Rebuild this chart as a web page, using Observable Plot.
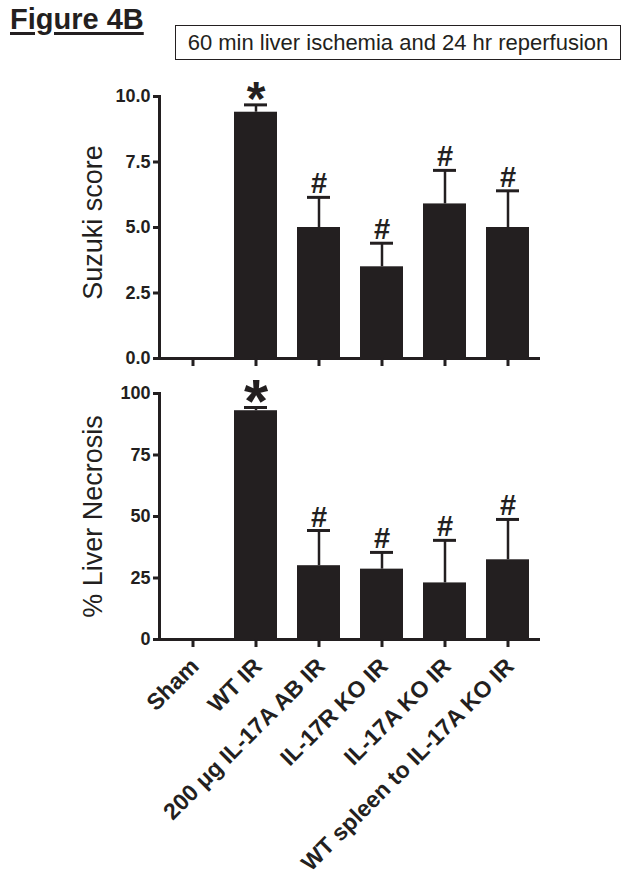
<!DOCTYPE html>
<html>
<head>
<meta charset="utf-8">
<script src="https://cdn.jsdelivr.net/npm/d3@7"></script>
<script src="https://cdn.jsdelivr.net/npm/@observablehq/plot@0.6"></script>
<style>
  html, body { margin: 0; padding: 0; background: #fff; }
  #wrap { position: relative; width: 630px; height: 889px; overflow: hidden; font-family: "Liberation Sans", Arial, sans-serif; color: #231f20; }
  #fig { position: absolute; left: 10px; top: 4.5px; font-size: 29px; font-weight: bold; line-height: 29px; text-decoration: underline; text-decoration-thickness: 3px; text-underline-offset: 3px; white-space: nowrap; }
  #box { position: absolute; left: 175px; top: 25px; width: 446px; height: 35px; box-sizing: border-box; border: 1.5px solid #231f20; font-size: 22px; display: flex; align-items: center; justify-content: center; white-space: nowrap; }
  .panel { position: absolute; left: 0; }
</style>
</head>
<body>
<div id="wrap">
  <div id="fig">Figure 4B</div>
  <div id="box">60 min liver ischemia and 24 hr reperfusion</div>
  <div id="top" class="panel" style="top:70px"></div>
  <div id="bottom" class="panel" style="top:370px"></div>
</div>
<script>
const groups = ["Sham", "WT IR", "200 μg IL-17A AB IR", "IL-17R KO IR", "IL-17A KO IR", "WT spleen to IL-17A KO IR"];
const suzukiMean = [0, 9.4, 5.0, 3.5, 5.9, 5.0];
const suzukiErr = [0, 0.28, 1.15, 0.9, 1.28, 1.4];
const suzukiMarks = ["", "*", "#", "#", "#", "#"];
const necrosisMean = [0, 93, 30, 28.6, 23, 32.4];
const necrosisErr = [0, 1.3, 14.3, 6.8, 17.3, 16.4];
const necrosisMarks = ["", "*", "#", "#", "#", "#"];
const suzukiTicks = [0, 2.5, 5, 7.5, 10];
const necrosisTicks = [0, 25, 50, 75, 100];
const suzukiLabel = "Suzuki score";
const necrosisLabel = "% Liver Necrosis";

const INK = "#231f20";
const FONT = "'Liberation Sans', Arial, sans-serif";

function rows(means, errs, marks) {
  return groups.map((g, i) => ({g, mean: means[i], err: errs[i], mark: marks[i]}));
}

function panel({data, ticks, fmt, label, yMax, height, marginTop, marginBottom, labelDy, starSize, starDy, hashDy, showLabels}) {
  const withErr = data.filter(d => d.err > 0);
  const marks = [
    Plot.barY(data, {x: "g", y: "mean", fill: INK}),
    Plot.ruleX(withErr, {x: "g", y1: "mean", y2: d => d.mean + d.err, stroke: INK, strokeWidth: 2.5}),
    Plot.tickY(withErr, {x: "g", y: d => d.mean + d.err, stroke: INK, strokeWidth: 3, insetLeft: 10, insetRight: 10}),
    Plot.text(data.filter(d => d.mark === "#"), {x: "g", y: d => d.mean + d.err, text: "mark", fontSize: 29, fontWeight: "bold", fill: INK, lineAnchor: "bottom", dy: hashDy}),
    Plot.text(data.filter(d => d.mark === "*"), {x: "g", y: d => d.mean + d.err, text: "mark", fontSize: starSize, fontWeight: "bold", fill: INK, lineAnchor: "bottom", dy: starDy}),
    Plot.ruleY([0], {stroke: INK, strokeWidth: 3}),
    Plot.frame({anchor: "left", stroke: INK, strokeWidth: 3}),
    Plot.axisY({ticks, tickFormat: fmt, tickSize: 6, tickPadding: 3, strokeWidth: 3, stroke: INK, fill: INK, fontSize: 18, fontWeight: "bold", label: null}),
    Plot.axisX({tickSize: 8, strokeWidth: 3, stroke: INK, fill: "none", label: null}),
    Plot.text([label], {text: d => d, frameAnchor: "left", dx: -58, dy: labelDy, rotate: -90, fontSize: 27, fill: INK, lineAnchor: "bottom", textAnchor: "middle"})
  ];
  if (showLabels) {
    marks.push(Plot.text(groups, {x: d => d, text: d => d, frameAnchor: "bottom", rotate: -45, textAnchor: "end", lineAnchor: "middle", dx: 2, dy: 23, fontSize: 23, fontWeight: "bold", fill: INK}));
  }
  return Plot.plot({
    width: 630,
    height,
    marginLeft: 159,
    marginRight: 90,
    marginTop,
    marginBottom,
    style: {fontFamily: FONT, color: INK, background: "transparent", overflow: "visible"},
    x: {domain: groups, paddingInner: 0.32, paddingOuter: 0.16, axis: null},
    y: {domain: [0, yMax], axis: null},
    marks
  });
}

document.getElementById("top").appendChild(panel({
  data: rows(suzukiMean, suzukiErr, suzukiMarks),
  ticks: suzukiTicks, fmt: d => d.toFixed(1), label: suzukiLabel, yMax: 10,
  height: 300, marginTop: 26, marginBottom: 12, labelDy: -5,
  starSize: 48, starDy: 10, hashDy: -4, showLabels: false
}));
document.getElementById("bottom").appendChild(panel({
  data: rows(necrosisMean, necrosisErr, necrosisMarks),
  ticks: necrosisTicks, fmt: d => d.toFixed(0), label: necrosisLabel, yMax: 100,
  height: 519, marginTop: 23, marginBottom: 250, labelDy: 0,
  starSize: 62, starDy: 14, hashDy: -4, showLabels: true
}));
</script>
</body>
</html>
